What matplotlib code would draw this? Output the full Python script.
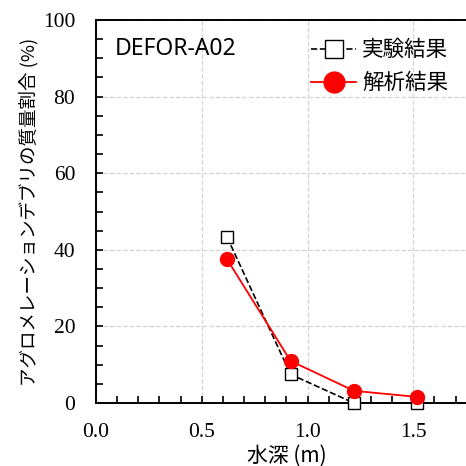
import matplotlib
matplotlib.use("Agg")
import matplotlib.pyplot as plt
from matplotlib.ticker import MultipleLocator, FormatStrFormatter

depth = [0.62, 0.92, 1.22, 1.52]
exp_vals = [43.3, 7.5, 0.0, 0.0]
ana_vals = [37.5, 11.0, 3.2, 1.6]
label_exp = "実験結果"
label_ana = "解析結果"
case_name = "DEFOR-A02"
xlabel = "水深 (m)"
ylabel = "アグロメレーションデブリの質量割合 (%)"

cjk = ["Noto Sans CJK JP", "DejaVu Sans"]
serif = ["Liberation Serif", "DejaVu Serif"]
plt.rcParams["font.family"] = serif

fig = plt.figure(figsize=(4.66, 4.66), dpi=100)
ax = fig.add_axes([0.206, 0.135, 0.817, 0.822])

ax.plot(depth, exp_vals, linestyle="--", color="black", linewidth=1.2,
        marker="s", markersize=9, markerfacecolor="white", markeredgecolor="black",
        markeredgewidth=1.0, label=label_exp, zorder=3, clip_on=False)
ax.plot(depth, ana_vals, linestyle="-", color="red", linewidth=1.3,
        marker="o", markersize=10, markerfacecolor="red", markeredgecolor="red",
        label=label_ana, zorder=4, clip_on=False)

ax.set_xlim(0, 1.8)
ax.set_ylim(0, 100)
ax.xaxis.set_major_locator(MultipleLocator(0.5))
ax.xaxis.set_minor_locator(MultipleLocator(0.1))
ax.yaxis.set_major_locator(MultipleLocator(20))
ax.yaxis.set_minor_locator(MultipleLocator(5))
ax.xaxis.set_major_formatter(FormatStrFormatter("%.1f"))
ax.tick_params(which="both", direction="in", length=5, width=1.2, color="black")
ax.tick_params(which="major", labelsize=15.5)
ax.tick_params(axis="x", which="major", pad=14)
ax.tick_params(axis="y", which="major", pad=15)

ax.grid(True, which="major", linestyle="--", color="#d4d4d4", linewidth=0.9)
ax.set_axisbelow(True)
for s in ["left", "bottom", "top"]:
    ax.spines[s].set_linewidth(1.4)
ax.spines["right"].set_visible(False)

ax.set_xlabel(xlabel, fontsize=15, family=cjk, labelpad=2)
ax.set_ylabel(ylabel, fontsize=13.3, family=cjk, labelpad=3)

ax.text(0.05, 0.955, case_name, transform=ax.transAxes, fontsize=16.5,
        family=["Noto Sans", "DejaVu Sans"], va="top", ha="left")

leg = ax.legend(loc="upper left", bbox_to_anchor=(0.515, 1.0), frameon=False,
                prop={"family": cjk, "size": 15.5}, handlelength=2.05,
                handletextpad=0.3, labelspacing=0.5, markerscale=1.5)

fig.savefig("out.png", dpi=100)
